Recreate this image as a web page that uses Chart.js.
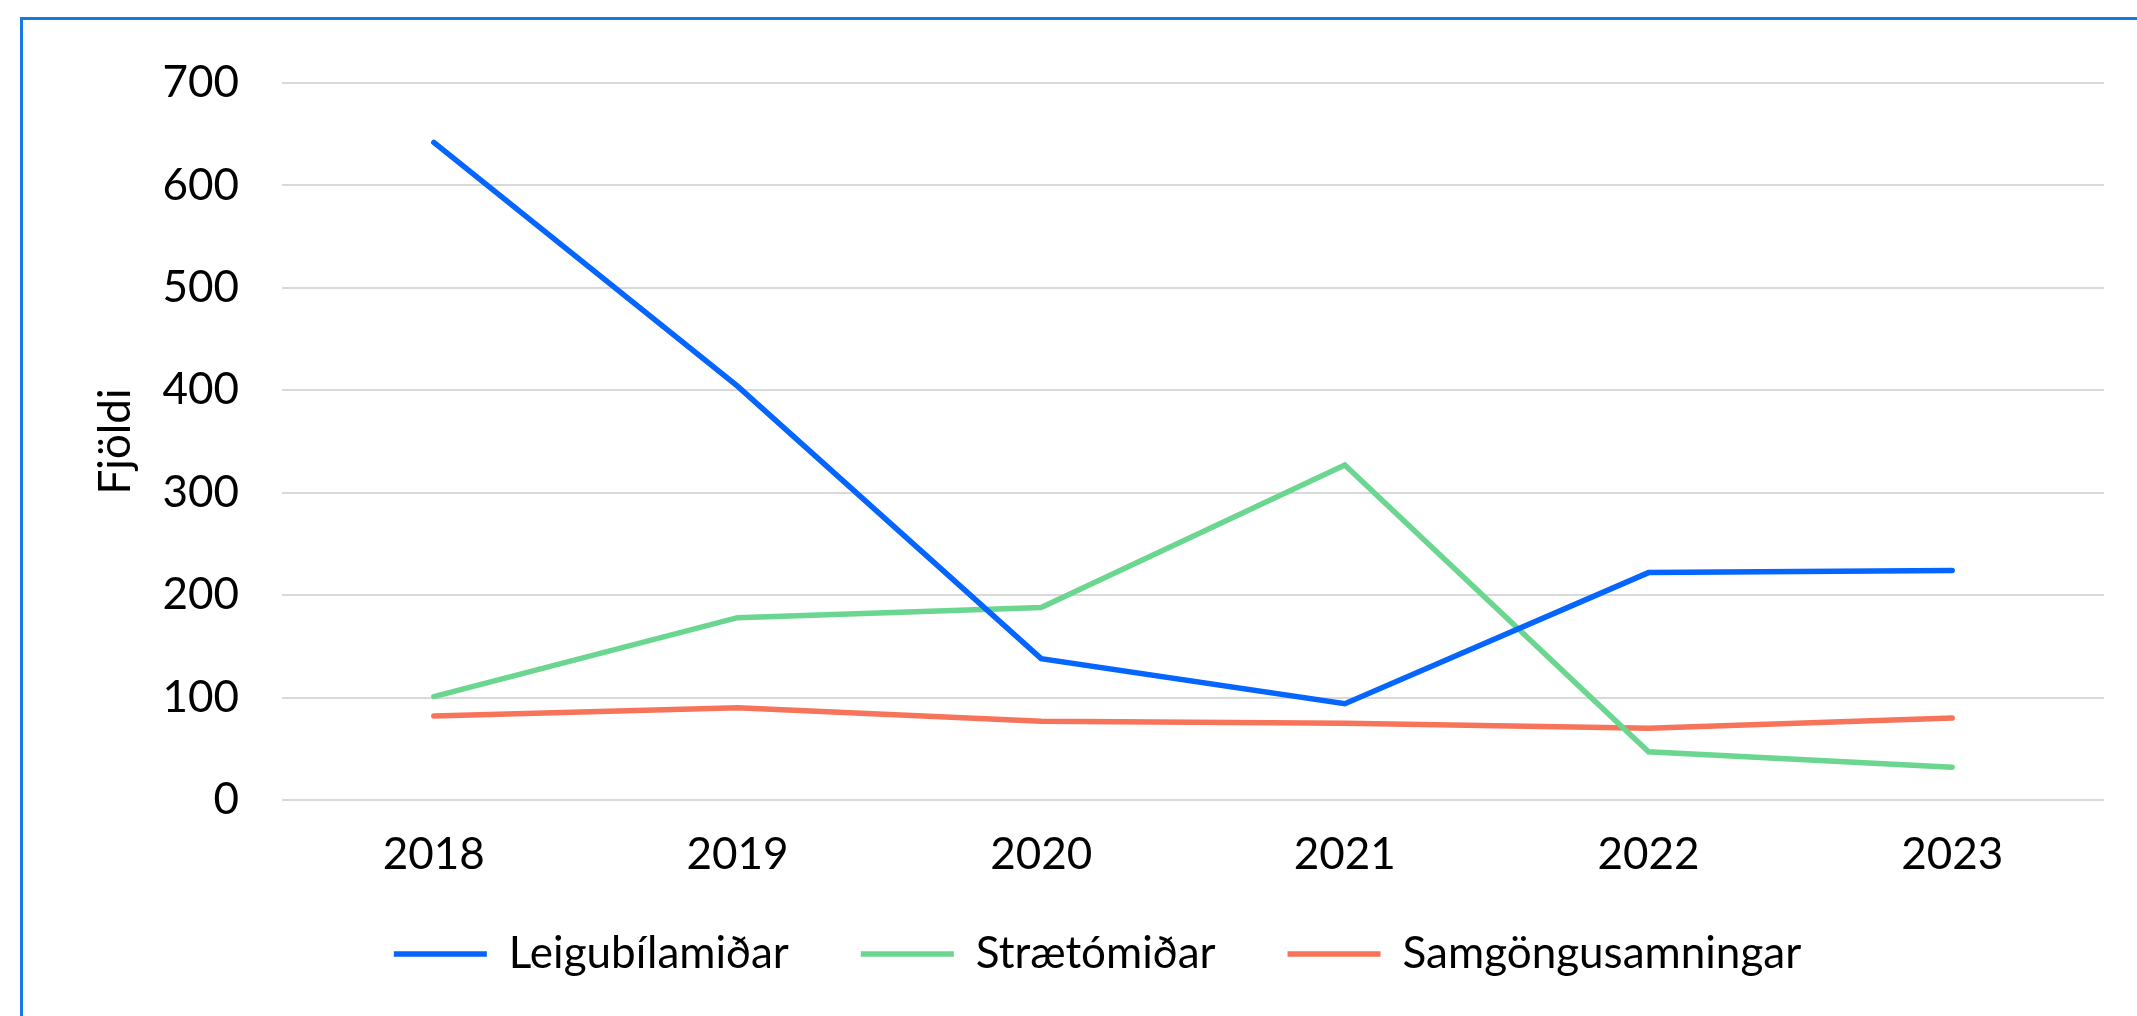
<!DOCTYPE html>
<html>
<head>
<meta charset="utf-8">
<script src="https://cdn.jsdelivr.net/npm/chart.js@4.4.0/dist/chart.umd.min.js"></script>
<style>
  html, body { margin: 0; padding: 0; background: #fff; overflow: hidden; }
  #frame {
    position: absolute; left: 20px; top: 17px; width: 2200px; height: 1100px;
    border-left: 3px solid #1a78e6; border-top: 3px solid #1a78e6;
    pointer-events: none;
  }
  #myChart { position: absolute; left: 0; top: 0; }
</style>
</head>
<body>
<canvas id="myChart" width="2137" height="1016"></canvas>
<div id="frame"></div>
<script>
let years = ["2018", "2019", "2020", "2021", "2022", "2023"];
let seriesNames = ["Leigubílamiðar", "Strætómiðar", "Samgöngusamningar"];
let taxiValues = [642, 404, 138, 94, 222, 224];
let busValues = [101, 178, 188, 327, 47, 32];
let commuteValues = [82, 90, 77, 75, 70, 80];
let yTicks = [0, 100, 200, 300, 400, 500, 600, 700];
let lineColors = ["#0565ff", "#6bd68f", "#f7735a"];

Chart.defaults.font.family = "Lato, 'DejaVu Sans', sans-serif";
Chart.defaults.font.size = 44;
Chart.defaults.color = "#000";

function makeLine(i, values) {
    return {
        label: seriesNames[i],
        data: values,
        borderColor: lineColors[i],
        backgroundColor: lineColors[i],
        borderWidth: 5.5,
        borderCapStyle: "round",
        pointRadius: 0,
        pointHoverRadius: 0,
        tension: 0,
        fill: false
    };
}

// the legend sits a bit higher than chart.js puts it
let legendShift = {
    id: "legendShift",
    afterLayout: function(chart) {
        chart.legend.top -= 30;
        chart.legend.bottom -= 30;
    }
};

new Chart("myChart", {
    type: "line",
    data: {
        labels: years,
        datasets: [
            makeLine(0, taxiValues),
            makeLine(1, busValues),
            makeLine(2, commuteValues)
        ]
    },
    options: {
        responsive: false,
        animation: false,
        devicePixelRatio: 1,
        layout: {
            padding: { left: 91, right: 33, top: 83, bottom: 0 }
        },
        scales: {
            x: {
                offset: true,
                grid: { display: false },
                border: { display: false },
                ticks: { padding: 20, maxRotation: 0 },
                afterFit: function(scale) { scale.height = 90; }
            },
            y: {
                min: yTicks[0],
                max: yTicks[yTicks.length - 1],
                afterBuildTicks: function(scale) {
                    scale.ticks = yTicks.map(v => ({ value: v }));
                },
                grid: { color: "#d9d9d9", lineWidth: 2, drawTicks: false },
                border: { display: false },
                ticks: { padding: 43 },
                title: {
                    display: true,
                    text: "Fjöldi",
                    padding: { top: 3, bottom: 0 },
                    font: { size: 44, lineHeight: 1 }
                },
                afterFit: function(scale) { scale.width = 191; }
            }
        },
        plugins: {
            legend: {
                position: "bottom",
                labels: {
                    usePointStyle: true,
                    pointStyle: "line",
                    pointStyleWidth: 93,
                    padding: 72,
                    color: "#000"
                }
            },
            tooltip: { enabled: false }
        }
    },
    plugins: [legendShift]
});
</script>
</body>
</html>
